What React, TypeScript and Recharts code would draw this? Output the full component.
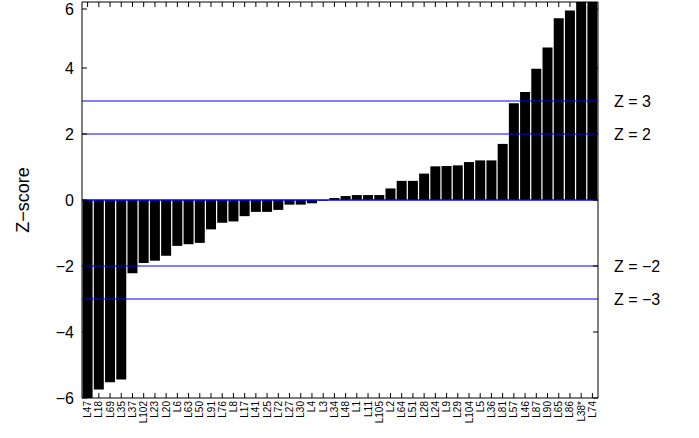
import { Bar, BarChart, ReferenceLine, XAxis, YAxis } from "recharts"

const loci = [
  "L47", "L18", "L69", "L35", "L37", "L102", "L23", "L20", "L6", "L63", "L50", "L91",
  "L76", "L8", "L17", "L41", "L25", "L72", "L27", "L30", "L4", "L3", "L34", "L48",
  "L1", "L11", "L105", "L2", "L64", "L51", "L28", "L24", "L9", "L29", "L104", "L5",
  "L36", "L81", "L57", "L46", "L87", "L90", "L65", "L86", "L38*", "L74",
]

const zscores = [
  -6.3, -5.74, -5.52, -5.44, -2.22, -1.91, -1.84, -1.69, -1.39, -1.34, -1.3,
  -0.89, -0.69, -0.65, -0.49, -0.36, -0.36, -0.3, -0.14, -0.14, -0.1, -0.02,
  0.06, 0.12, 0.15, 0.15, 0.15, 0.35, 0.58, 0.58, 0.8, 1.02, 1.03,
  1.05, 1.15, 1.2, 1.2, 1.7, 2.93, 3.27, 3.98, 4.62, 5.51, 5.74,
  6.4, 7.0,
]

const yTicks = [-6, -4, -2, 0, 2, 4, 6]
const thresholds = [3, 2, -2, -3]

const data = loci.map((name, i) => ({ name, z: zscores[i] }))

const FONT = "'Liberation Sans', Arial, sans-serif"
const minus = (v: number) => String(v).replace("-", "\u2212")

function BottomTick(props: any) {
  const { x, y, payload } = props
  const axisY = y - 3
  return (
    <g>
      <line x1={x} y1={axisY} x2={x} y2={axisY - 5} stroke="#000" />
      <text
        x={x}
        y={y}
        transform={`rotate(-90 ${x} ${y})`}
        textAnchor="end"
        dy="0.35em"
        fontSize={10}
        fontFamily={FONT}
        fill="#000"
      >
        {payload.value}
      </text>
    </g>
  )
}

function TopTick(props: any) {
  const { x, y } = props
  return <line x1={x} y1={y} x2={x} y2={y + 5} stroke="#000" />
}

function LeftTick(props: any) {
  const { x, y, payload } = props
  const axisX = x + 8
  return (
    <g>
      <line x1={axisX} y1={y} x2={axisX + 5} y2={y} stroke="#000" />
      <text x={x} y={y} textAnchor="end" dy="0.35em" fontSize={16} fontFamily={FONT} fill="#000">
        {minus(payload.value)}
      </text>
    </g>
  )
}

function RightTick(props: any) {
  const { x, y } = props
  return <line x1={x} y1={y} x2={x - 5} y2={y} stroke="#000" />
}

export default function App() {
  return (
    <div style={{ position: "absolute", left: 0, top: 0, background: "#fff" }}>
      <BarChart
        width={699}
        height={438}
        data={data}
        margin={{ top: 1, right: 100, left: 0, bottom: 0 }}
        barCategoryGap={0.6}
      >
        <XAxis
          dataKey="name"
          xAxisId={0}
          interval={0}
          height={40}
          tickSize={0}
          tickMargin={3}
          tickLine={false}
          axisLine={{ stroke: "#000" }}
          tick={<BottomTick />}
        />
        <XAxis
          dataKey="name"
          xAxisId="top"
          orientation="top"
          interval={0}
          height={1}
          tickSize={0}
          tickMargin={0}
          tickLine={false}
          axisLine={{ stroke: "#000" }}
          tick={<TopTick />}
        />
        <YAxis
          yAxisId={0}
          width={82}
          domain={[-6, 6]}
          ticks={yTicks}
          allowDataOverflow
          tickSize={0}
          tickMargin={8}
          tickLine={false}
          axisLine={{ stroke: "#000" }}
          tick={<LeftTick />}
          label={{
            content: () => (
              <text
                x={23}
                y={200}
                transform="rotate(-90 23 200)"
                textAnchor="middle"
                dy="0.35em"
                fontSize={18}
                fontFamily={FONT}
                fill="#000"
              >
                Z{"\u2212"}score
              </text>
            ),
          }}
        />
        <YAxis
          yAxisId="right"
          orientation="right"
          width={1}
          domain={[-6, 6]}
          ticks={yTicks}
          allowDataOverflow
          tickSize={0}
          tickMargin={0}
          tickLine={false}
          axisLine={{ stroke: "#000" }}
          tick={<RightTick />}
        />
        <Bar dataKey="z" fill="#000" isAnimationActive={false} />
        <ReferenceLine y={0} stroke="#0000ff" strokeWidth={1.5} />
        {thresholds.map((t) => (
          <ReferenceLine
            key={t}
            y={t}
            stroke="#0000ff"
            label={{
              value: `Z = ${minus(t)}`,
              position: "right",
              offset: 16,
              fontSize: 16,
              fontFamily: FONT,
              fill: "#000",
            }}
          />
        ))}
      </BarChart>
    </div>
  )
}
